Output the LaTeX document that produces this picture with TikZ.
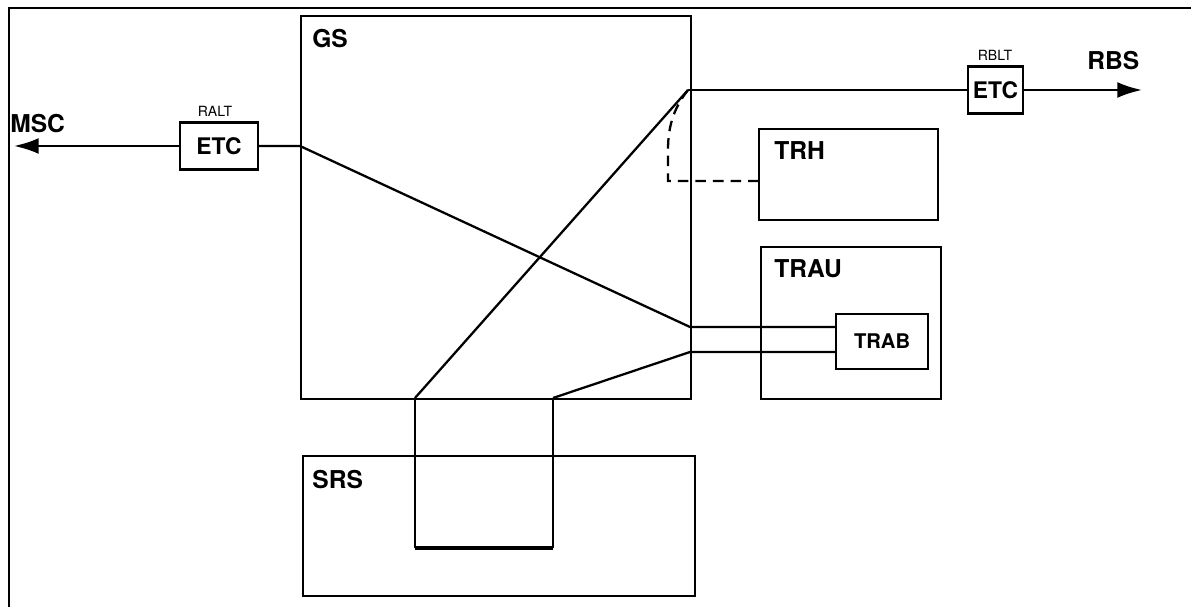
\documentclass[tikz,border=0pt]{standalone}
\usepackage{fontspec}
\setmainfont{TeX Gyre Heros}
\usetikzlibrary{arrows.meta}
\begin{document}
\begin{tikzpicture}[x=0.02cm,y=-0.02cm,
  box/.style={draw,line width=1.2pt,inner sep=0pt},
  lab/.style={font=\bfseries\fontsize{14}{16}\selectfont,anchor=north west,inner sep=0pt},
  small/.style={font=\fontsize{8}{9}\selectfont,inner sep=0pt},
  wire/.style={line width=1.3pt},
  thin/.style={line width=0.9pt},
  arr/.style={wire,-{Latex[length=14pt,width=9pt]}}]
\useasboundingbox (0,0) rectangle (1191,607);
% frame
\draw[line width=0.8pt] (9,607) -- (9,8) -- (1191,8);
% boxes
\node[box,minimum width=390*0.02cm,minimum height=383*0.02cm,anchor=north west] (gs) at (300,15) {};
\node[lab] at (312,29) {GS};
\node[box,minimum width=392*0.02cm,minimum height=140*0.02cm,anchor=north west] (srs) at (302,455) {};
\node[lab] at (312,470) {SRS};
\node[box,minimum width=179*0.02cm,minimum height=91*0.02cm,anchor=north west] (trh) at (758,128) {};
\node[lab] at (774,141) {TRH};
\node[box,minimum width=180*0.02cm,minimum height=152*0.02cm,anchor=north west] (trau) at (760,246) {};
\node[lab] at (774,259) {TRAU};
\node[box,minimum width=92*0.02cm,minimum height=55*0.02cm,anchor=north west] (trab) at (835,313) {};
\node[font=\bfseries\fontsize{11.5}{13}\selectfont] at (trab.center) {TRAB};
\node[box,minimum width=78*0.02cm,minimum height=47*0.02cm,font=\bfseries\fontsize{13}{14}\selectfont] (etcl) at (219,146) {ETC};
\node[small] at (215,111) {RALT};
\node[box,minimum width=55*0.02cm,minimum height=47*0.02cm,font=\bfseries\fontsize{13}{14}\selectfont] (etcr) at (995.5,90) {ETC};
\node[small] at (995,55) {RBLT};
% outer labels
\node[lab] (msc) at (10,114) {MSC};
\node[lab] (rbs) at (1087,51) {RBS};
% coordinates
\coordinate (tipl) at (14,146);
\coordinate (tipr) at (1142,90);
\coordinate (gsl) at (300,146);
\coordinate (j1) at (690,327);
\coordinate (j2) at (690,352);
\coordinate (jt) at (688,90);
\coordinate (b1) at (415,398);
\coordinate (b2) at (553,398);
\coordinate (c1) at (415,548);
\coordinate (c2) at (553,548);
\coordinate (d1) at (668,181);
\coordinate (d2) at (758,181);
\coordinate (t1) at (835,327);
\coordinate (t2) at (835,352);
% arrows
\draw[arr] (etcl.west) -- (tipl);
\draw[arr] (etcr.east) -- (tipr);
% wires
\draw[wire] (etcl.east) -- (gsl) -- (j1) -- (t1);
\draw[wire] (jt) -- (etcr.west);
\draw[wire] (b1) -- (jt);
\draw[wire] (b2) -- (j2) -- (t2);
\draw[thin] (b1) -- (c1);
\draw[line width=1.8pt] (c1) -- (c2);
\draw[thin] (c2) -- (b2);
% dashed
\draw[wire,dashed,dash pattern=on 6pt off 4pt] (jt) .. controls (672,110) and (668,130) .. (668,150) -- (d1) -- (d2);
\end{tikzpicture}
\end{document}
